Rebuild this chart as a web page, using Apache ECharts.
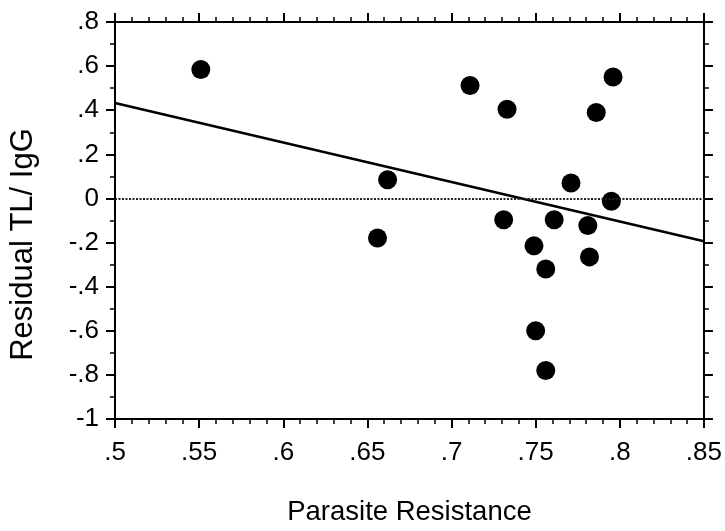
<!DOCTYPE html>
<html>
<head>
<meta charset="utf-8">
<script src="https://cdn.jsdelivr.net/npm/echarts@6/dist/echarts.min.js"></script>
<style>
  html, body { margin: 0; padding: 0; background: #fff; }
</style>
</head>
<body>
<div id="chart" style="width: 725px; height: 531px"></div>
<script>
// parasite resistance vs residual TL/IgG
const resistance = [0.551, 0.656, 0.662, 0.711, 0.733, 0.796, 0.786, 0.771, 0.795,
  0.731, 0.761, 0.781, 0.749, 0.782, 0.756, 0.750, 0.756]
const residual = [0.585, -0.179, 0.085, 0.512, 0.404, 0.551, 0.390, 0.070, -0.013,
  -0.097, -0.097, -0.123, -0.215, -0.265, -0.320, -0.600, -0.780]

// regression line ends
const fitX = [0.5, 0.85]
const fitY = [0.433, -0.194]

const xTicks = [0.5, 0.85, 0.05]
const yTicks = [-1, 0.8, 0.2]

const chart = echarts.init(document.getElementById('chart'))

const fmt = (v) => {
  const s = String(+v.toFixed(2))
  return s.replace(/^(-?)0\./, '$1.')
}

const font = 'Liberation Sans, Arial, sans-serif'

const axisBase = {
  type: 'value',
  axisLine: { show: true, onZero: false, lineStyle: { color: '#000', width: 2 } },
  axisTick: { show: true, inside: false, length: 9, lineStyle: { color: '#000', width: 2 } },
  minorTick: { show: true, length: 5, lineStyle: { color: '#000', width: 1.5 } },
  splitLine: { show: false }
}

const points = resistance.map((x, i) => [x, residual[i]])

const option = {
  backgroundColor: '#fff',
  animation: false,
  grid: { left: 115, right: 16, top: 22, bottom: 108 },
  xAxis: [
    {
      ...axisBase,
      position: 'bottom',
      min: xTicks[0], max: xTicks[1], interval: xTicks[2],
      minorTick: { ...axisBase.minorTick, splitNumber: 5 },
      axisLabel: { color: '#000', fontSize: 26, fontFamily: font, margin: 21, formatter: fmt },
      name: 'Parasite Resistance',
      nameLocation: 'middle',
      nameGap: 79,
      nameTextStyle: { color: '#000', fontSize: 27.5, fontFamily: font }
    },
    {
      ...axisBase,
      position: 'top',
      min: xTicks[0], max: xTicks[1], interval: xTicks[2],
      minorTick: { ...axisBase.minorTick, splitNumber: 5 },
      axisLabel: { show: false }
    }
  ],
  yAxis: [
    {
      ...axisBase,
      position: 'left',
      min: yTicks[0], max: yTicks[1], interval: yTicks[2],
      minorTick: { ...axisBase.minorTick, splitNumber: 2 },
      axisLabel: { color: '#000', fontSize: 26, fontFamily: font, margin: 16, formatter: fmt },
      name: 'Residual TL/ IgG',
      nameLocation: 'middle',
      nameGap: 76,
      nameTextStyle: { color: '#000', fontSize: 31, fontFamily: font, padding: [0, 48, 0, 0] }
    },
    {
      ...axisBase,
      position: 'right',
      min: yTicks[0], max: yTicks[1], interval: yTicks[2],
      minorTick: { ...axisBase.minorTick, splitNumber: 2 },
      axisLabel: { show: false }
    }
  ],
  series: [
    {
      type: 'line',
      data: fitX.map((x, i) => [x, fitY[i]]),
      symbol: 'none',
      lineStyle: { color: '#000', width: 2.5 },
      z: 2,
      markLine: {
        silent: true,
        symbol: 'none',
        label: { show: false },
        lineStyle: { color: '#222', width: 2, type: [2, 1.5] },
        data: [{ yAxis: 0 }]
      }
    },
    {
      type: 'scatter',
      data: points,
      symbol: 'circle',
      symbolSize: 19,
      itemStyle: { color: '#000', opacity: 1 },
      z: 3
    }
  ]
}

chart.setOption(option)
</script>
</body>
</html>
